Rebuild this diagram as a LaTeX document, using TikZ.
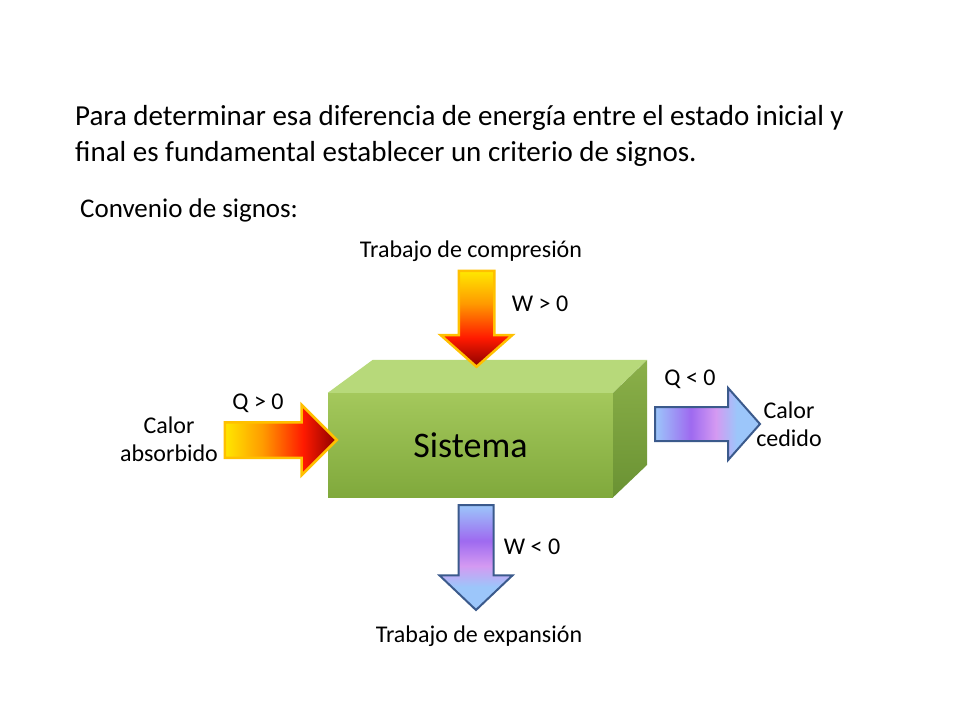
\documentclass[tikz,border=0pt]{standalone}
\usepackage{fontspec}
\setmainfont{Carlito}
\usetikzlibrary{shapes.arrows}

\definecolor{heatYellow}{HTML}{FFE800}
\definecolor{heatOrange}{HTML}{FF9A00}
\definecolor{heatRed}{HTML}{FF1A00}
\definecolor{heatDark}{HTML}{8A0000}
\definecolor{heatEdge}{HTML}{FFC000}
\definecolor{coolBlue}{HTML}{9CC6FA}
\definecolor{coolPurple}{HTML}{9E6AF0}
\definecolor{coolPink}{HTML}{D49AF2}
\definecolor{coolEdge}{HTML}{3B5A8C}
\definecolor{boxTop}{HTML}{A4C85C}
\definecolor{boxBottom}{HTML}{80A93C}
\definecolor{boxLid}{HTML}{B7D97A}
\definecolor{sideTop}{HTML}{8BB049}
\definecolor{sideBottom}{HTML}{6A9233}

\pgfdeclarehorizontalshading{heatin}{100bp}{color(0bp)=(heatYellow); color(25bp)=(heatYellow); color(42bp)=(heatOrange); color(60bp)=(heatRed); color(75bp)=(heatDark); color(100bp)=(heatDark)}
\pgfdeclarehorizontalshading{coolout}{100bp}{color(0bp)=(coolBlue); color(25bp)=(coolBlue); color(42bp)=(coolPurple); color(54bp)=(coolPink); color(64bp)=(coolBlue); color(100bp)=(coolBlue)}

\begin{document}
\begin{tikzpicture}[x=1pt, y=-1pt,
    heatarrow/.style={single arrow, draw=heatEdge, line width=2.5, shade, shading=heatin, inner xsep=0pt, single arrow head indent=0pt},
    coolarrow/.style={single arrow, draw=coolEdge, line width=2, shade, shading=coolout, inner xsep=0pt, single arrow head indent=0pt},
    signtext/.style={font=\fontsize{24}{28}\selectfont, align=center, inner sep=0pt}]

    % Slide area
    \useasboundingbox[fill=white] (0,0) rectangle (960,720);

    % Intro text
    \node[anchor=west, align=left, inner sep=0pt, font=\fontsize{29}{36}\selectfont] (intro) at (75,136) {Para determinar esa diferencia de energía entre el estado inicial y\\final es fundamental establecer un criterio de signos.};
    \node[anchor=west, inner sep=0pt, font=\fontsize{27}{30}\selectfont] (conv) at (80,210) {Convenio de signos:};

    % System box
    \node[minimum width=285, minimum height=104, inner sep=0pt, top color=boxTop, bottom color=boxBottom, font=\fontsize{36}{40}\selectfont] (sys) at (470.5,445) {Sistema};
    \fill[boxLid] (sys.north west) -- ++(45,-33) -- ++(274,0) -- (sys.north east) -- cycle;
    \shade[top color=sideTop, bottom color=sideBottom] (sys.north east) -- ++(34,-33) -- ++(0,105) -- (sys.south east) -- cycle;

    % Work done on the system
    \node[heatarrow, rotate=-90, shading angle=-90, minimum height=96, inner ysep=16.5, single arrow head extend=18, single arrow tip angle=97, anchor=tail] (wIn) at (476.5,269.5) {};
    \node[signtext] (wInTitle) at (471,251) {Trabajo de compresión};
    \node[signtext] (wInSign) at (540,304) {W > 0};

    % Heat absorbed
    \node[heatarrow, minimum height=112, inner ysep=16.5, single arrow head extend=17.5, single arrow tip angle=90, anchor=tail] (qIn) at (223.5,440) {};
    \node[signtext] (qInSign) at (258,403) {Q > 0};
    \node[signtext] (qInTitle) at (169,439) {Calor\\absorbido};

    % Heat released
    \node[coolarrow, minimum height=105, inner ysep=16, single arrow head extend=19, single arrow tip angle=97, anchor=tail] (qOut) at (654,424) {};
    \node[signtext] (qOutSign) at (690,379) {Q < 0};
    \node[signtext] (qOutTitle) at (789,424) {Calor\\cedido};

    % Work done by the system
    \node[coolarrow, rotate=-90, shading angle=-90, minimum height=105, inner ysep=16.5, single arrow head extend=19, single arrow tip angle=93, anchor=tail] (wOut) at (476,504) {};
    \node[signtext] (wOutSign) at (532,547) {W < 0};
    \node[signtext] (wOutTitle) at (479,636) {Trabajo de expansión};

\end{tikzpicture}
\end{document}
